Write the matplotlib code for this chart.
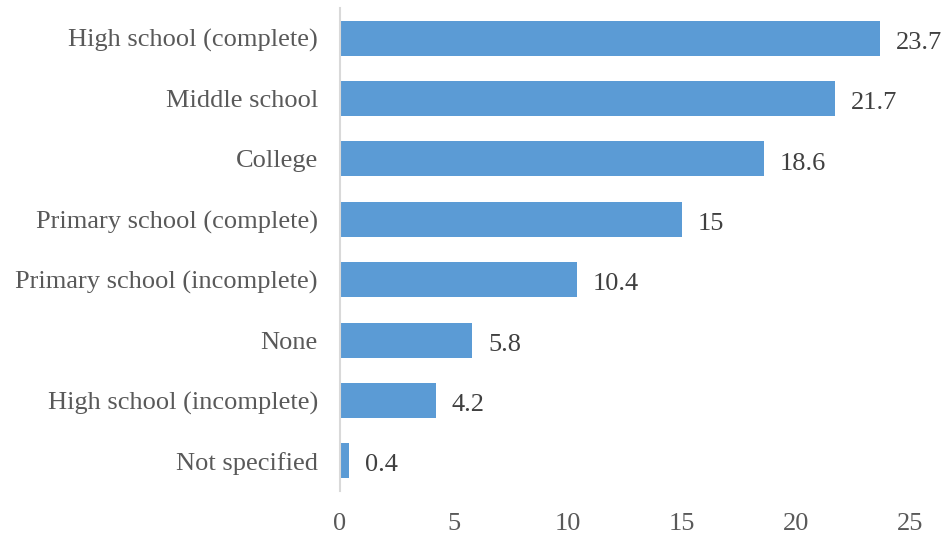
import matplotlib
matplotlib.use("Agg")
import matplotlib.pyplot as plt

# education level breakdown, top to bottom as listed
LEVELS = ["High school (complete)", "Middle school", "College",
          "Primary school (complete)", "Primary school (incomplete)",
          "None", "High school (incomplete)", "Not specified"]
PCT = [23.7, 21.7, 18.6, 15, 10.4, 5.8, 4.2, 0.4]
XTICKS = [0, 5, 10, 15, 20, 25]

BAR = "#5B9BD5"
TXT = "#595959"
VAL = "#404040"

plt.rcParams["font.family"] = ["Liberation Serif", "DejaVu Serif"]

W, H = 946, 535
fig = plt.figure(figsize=(W / 100, H / 100), dpi=100)
ax = fig.add_axes([340 / W, 1 - 491 / H, (910 - 340) / W, (491 - 8) / H])

y = list(range(len(LEVELS)))
ax.barh(y, PCT, height=0.58, color=BAR)
for yi, v in zip(y, PCT):
    ax.annotate(f"{v:g}", (v, yi), xytext=(11.5, -1.5), textcoords="offset points",
                ha="left", va="center_baseline", fontsize=19, color=VAL)

ax.set_ylim(len(LEVELS) - 0.5, -0.5)
ax.set_xlim(0, 25)
ax.set_yticks(y)
ax.set_yticklabels(LEVELS, fontsize=19, color=TXT)
ax.set_xticks(XTICKS)
ax.set_xticklabels([str(t) for t in XTICKS], fontsize=19, color=TXT)
ax.tick_params(length=0)
ax.tick_params(axis="y", pad=16)
ax.tick_params(axis="x", pad=16)
for s in ("top", "right", "bottom"):
    ax.spines[s].set_visible(False)
ax.spines["left"].set_color("#D9D9D9")
ax.spines["left"].set_linewidth(1.5)

fig.savefig("out.png", dpi=100)
